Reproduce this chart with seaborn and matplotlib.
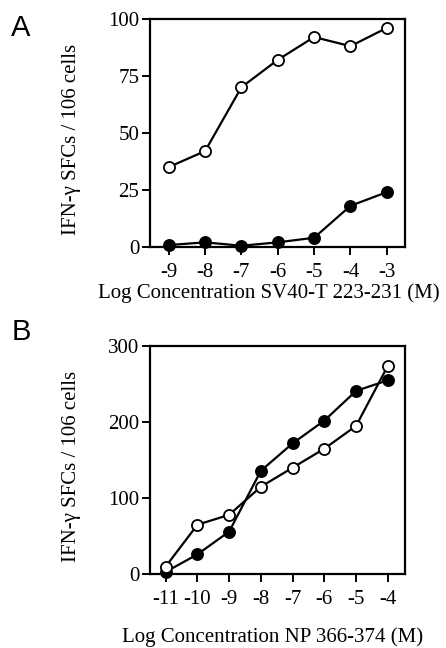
import matplotlib
matplotlib.use("Agg")
import matplotlib.pyplot as plt
import seaborn as sns

# panel A: SV40-T 223-231
conc_a = [-9, -8, -7, -6, -5, -4, -3]
open_a = [35, 42, 70, 82, 92, 88, 96]
filled_a = [0.8, 2, 0.5, 2, 4, 18, 24]

# panel B: NP 366-374
conc_b = [-11, -10, -9, -8, -7, -6, -5, -4]
open_b = [10, 65, 78, 115, 140, 165, 195, 274]
filled_b = [3, 26, 56, 136, 172, 202, 241, 255]

sns.set_style("ticks")
plt.rcParams["font.family"] = ["Liberation Serif", "DejaVu Serif"]
plt.rcParams["axes.unicode_minus"] = False
plt.rcParams["text.color"] = "black"
plt.rcParams["axes.labelcolor"] = "black"
plt.rcParams["xtick.color"] = "black"
plt.rcParams["ytick.color"] = "black"
plt.rcParams["axes.edgecolor"] = "black"

fig = plt.figure(figsize=(4.46, 6.48), dpi=100)
ax_a = fig.add_axes([0.336, 0.619, 0.572, 0.352])
ax_b = fig.add_axes([0.336, 0.114, 0.572, 0.352])


def draw_panel(ax, x, y_open, y_filled):
    sns.lineplot(x=x, y=y_filled, ax=ax, color="black", linewidth=1.6,
                 marker="o", markersize=8, markerfacecolor="black",
                 markeredgecolor="black", markeredgewidth=1.3)
    sns.lineplot(x=x, y=y_open, ax=ax, color="black", linewidth=1.6,
                 marker="o", markersize=8, markerfacecolor="white",
                 markeredgecolor="black", markeredgewidth=1.3)
    for s in ax.spines.values():
        s.set_linewidth(1.6)
        s.set_visible(True)
    ax.tick_params(direction="out", length=5.5, width=1.4, labelsize=15,
                   top=False, right=False)
    ax.tick_params(axis="x", pad=6)
    ax.tick_params(axis="y", pad=2)
    for m in ax.lines:
        m.set_clip_on(False)
    ax.set_ylabel("IFN-\u03b3 SFCs / 106 cells", fontsize=15)
    ax.yaxis.set_label_coords(-0.27, 0.47)


draw_panel(ax_a, conc_a, open_a, filled_a)
ax_a.set_xlim(-9.52, -2.5)
ax_a.set_ylim(0, 100)
ax_a.set_yticks([0, 25, 50, 75, 100])
ax_a.set_xticks(conc_a)
ax_a.set_xlabel("Log Concentration SV40-T 223-231 (M)", fontsize=15)
ax_a.xaxis.set_label_coords(0.465, -0.16)

draw_panel(ax_b, conc_b, open_b, filled_b)
ax_b.set_xlim(-11.5, -3.46)
ax_b.set_ylim(0, 300)
ax_b.set_yticks([0, 100, 200, 300])
ax_b.set_xticks(conc_b)
ax_b.set_xlabel("Log Concentration NP 366-374 (M)", fontsize=15)
ax_b.xaxis.set_label_coords(0.48, -0.235)

fig.text(0.025, 0.945, "A", fontsize=21, family="Liberation Sans")
fig.text(0.025, 0.476, "B", fontsize=21, family="Liberation Sans")

fig.savefig("out.png", dpi=100)
